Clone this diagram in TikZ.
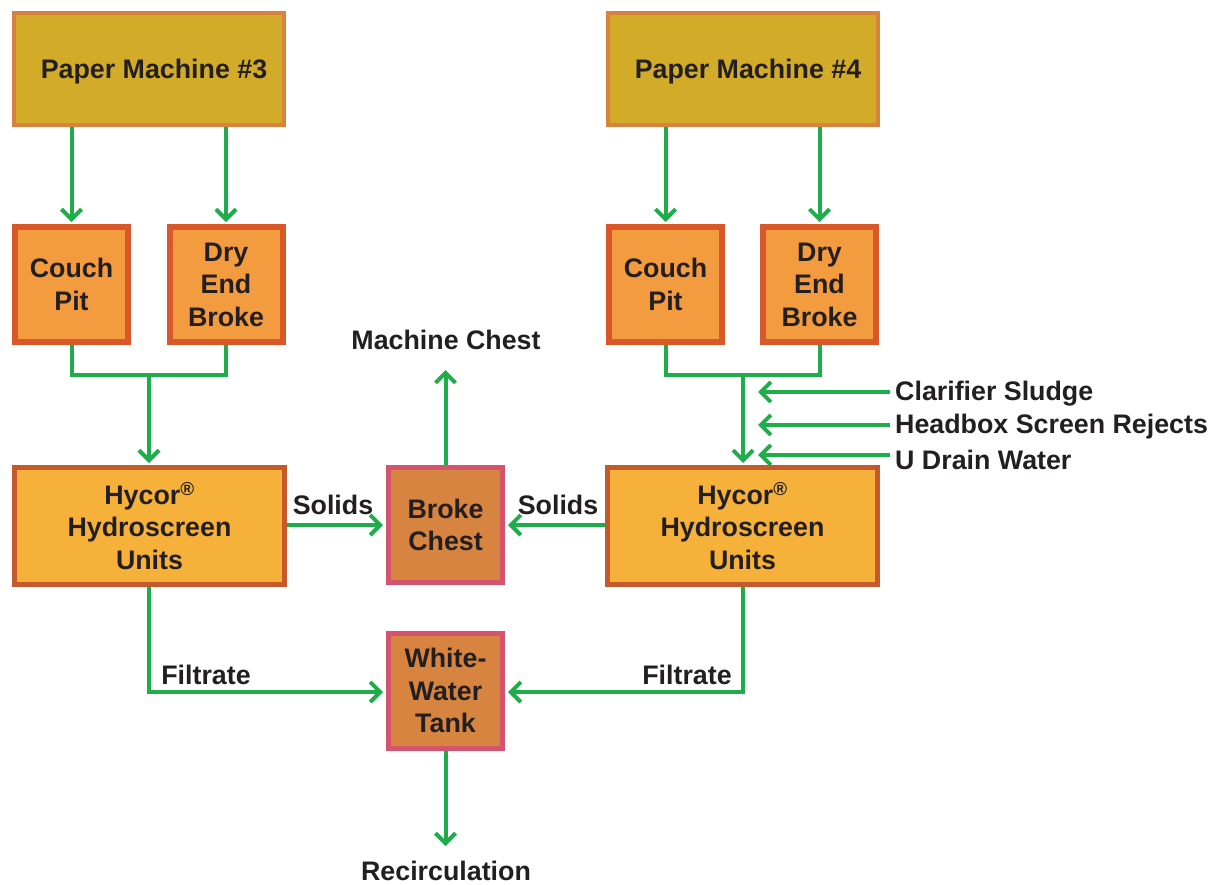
\documentclass[tikz,border=0pt]{standalone}
\usepackage{fontspec}
\setmainfont{Liberation Sans}
\usetikzlibrary{arrows.meta}
\definecolor{txt}{HTML}{231F20}
\definecolor{flowc}{HTML}{1FAD4B}
\definecolor{pmfill}{HTML}{D2AB29}
\definecolor{pmdraw}{HTML}{D9813F}
\definecolor{cpfill}{HTML}{F39B3F}
\definecolor{cpdraw}{HTML}{D9582A}
\definecolor{hyfill}{HTML}{F5B13A}
\definecolor{hydraw}{HTML}{C45A2C}
\definecolor{bcfill}{HTML}{D6843F}
\definecolor{bcdraw}{HTML}{D4546E}
\tikzset{
  every node/.style={text=txt, font=\bfseries\fontsize{26.8}{32.5}\selectfont, align=center, inner sep=0pt},
  pmbox/.style={draw=pmdraw, fill=pmfill, line width=4pt, minimum width=270pt, minimum height=112pt},
  cpbox/.style={draw=cpdraw, fill=cpfill, line width=6pt, minimum width=113pt, minimum height=115pt},
  hybox/.style={draw=hydraw, fill=hyfill, line width=5pt, minimum width=270pt, minimum height=117pt},
  bcbox/.style={draw=bcdraw, fill=bcfill, line width=5pt, minimum width=114pt, minimum height=115pt},
  flow/.style={draw=flowc, line width=4pt, -{Straight Barb[length=10pt,width=20pt,line width=4pt]}},
  pipe/.style={draw=flowc, line width=4pt}
}
\begin{document}
\begin{tikzpicture}[x=1pt,y=-1pt]
\useasboundingbox[fill=white] (0,0) rectangle (1223,884);
% boxes
\node[pmbox] (pm3) at (149,69) {};
\node (pm3t) at (154,72) {Paper Machine \#3};
\node[pmbox] (pm4) at (742.5,69) {};
\node (pm4t) at (748,72) {Paper Machine \#4};
\node[cpbox] (cpL) at (71.5,284.5) {Couch\\Pit};
\node[cpbox] (deL) at (226,284.5) {Dry\\End\\Broke};
\node[cpbox] (cpR) at (665.5,284.5) {Couch\\Pit};
\node[cpbox] (deR) at (819.5,284.5) {Dry\\End\\Broke};
\node[hybox] (hyL) at (149.5,526) {Hycor\textsuperscript{®}\\Hydroscreen\\Units};
\node[hybox] (hyR) at (742.5,526) {Hycor\textsuperscript{®}\\Hydroscreen\\Units};
\node[bcbox] (bc) at (445.5,525) {Broke\\Chest};
\node[bcbox] (ww) at (445.5,690.5) {White-\\Water\\Tank};
% labels
\node (mc) at (446,340) {Machine Chest};
\node (rc) at (446,871) {Recirculation};
\node[anchor=west] (cs) at (895,394) {Clarifier Sludge};
\node[anchor=west] (hs) at (895,427) {Headbox Screen Rejects};
\node[anchor=west] (ud) at (895,460) {U Drain Water};
\node (solL) at (333,505) {Solids};
\node (solR) at (558,505) {Solids};
\node (filL) at (206,675) {Filtrate};
\node (filR) at (687,675) {Filtrate};
% coordinates
\coordinate (jL) at (149,375);
\coordinate (jR) at (743,375);
\coordinate (fL) at (149,692);
\coordinate (fR) at (743,692);
\coordinate (mcEnd) at (446,370);
\coordinate (rcEnd) at (446,846);
% PM to pits
\draw[flow] (pm3.south -| cpL.north) -- ([yshift=2pt]cpL.north);
\draw[flow] (pm3.south -| deL.north) -- ([yshift=2pt]deL.north);
\draw[flow] (pm4.south -| cpR.north) -- ([yshift=2pt]cpR.north);
\draw[flow] (pm4.south -| deR.north) -- ([yshift=2pt]deR.north);
% merges
\draw[pipe, line join=miter] (cpL.south) |- (jL) -| (deL.south);
\draw[flow] (jL) -- ([yshift=2pt]hyL.north -| jL);
\draw[pipe, line join=miter] (cpR.south) |- (jR) -| (deR.south);
\draw[flow] (jR) -- ([yshift=2pt]hyR.north -| jR);
% inputs
\draw[flow] ([xshift=-5pt]cs.west |- 0,392) -- ([xshift=-137pt]cs.west |- 0,392);
\draw[flow] ([xshift=-5pt]hs.west |- 0,425) -- ([xshift=-137pt]hs.west |- 0,425);
\draw[flow] ([xshift=-5pt]ud.west |- 0,455) -- ([xshift=-137pt]ud.west |- 0,455);
% solids
\draw[flow] (hyL.east |- bc.west) -- ([xshift=-3pt]bc.west);
\draw[flow] (hyR.west |- bc.east) -- ([xshift=3pt]bc.east);
% machine chest
\draw[flow] (bc.north) -- (bc.north |- mcEnd);
% filtrate
\draw[pipe] (hyL.south -| fL) -- (fL);
\draw[flow] ([xshift=-2pt]fL) -- ([xshift=-3pt]ww.west |- fL);
\draw[pipe] (hyR.south -| fR) -- (fR);
\draw[flow] ([xshift=2pt]fR) -- ([xshift=3pt]ww.east |- fR);
% recirculation
\draw[flow] (ww.south) -- (ww.south |- rcEnd);
\end{tikzpicture}
\end{document}
